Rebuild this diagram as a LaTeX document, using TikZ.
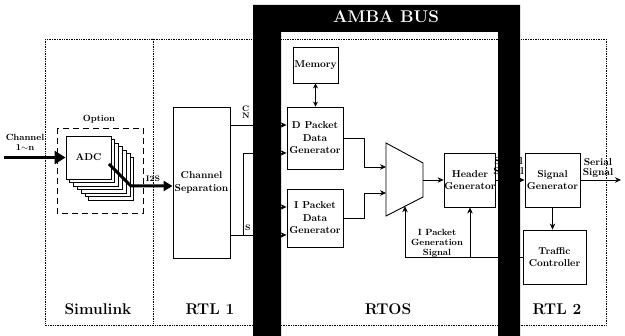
\documentclass[tikz,border=0pt]{standalone}
\usetikzlibrary{arrows.meta}
\begin{document}
\begin{tikzpicture}[x=1pt,y=-1pt,
  blk/.style={draw,line width=0.9pt,fill=white,align=center,inner sep=0.3pt,font=\fontsize{10}{12.5}\selectfont\bfseries},
  arr/.style={-{Stealth[length=6pt,width=5.5pt]},line width=0.8pt},
  con/.style={line width=0.8pt},
  fr/.style={densely dotted,line width=0.7pt},
  big/.style={font=\fontsize{15.5}{18}\selectfont\bfseries},
  sml/.style={font=\fontsize{10}{10}\selectfont\bfseries,align=center,inner sep=0pt},
]
\useasboundingbox (0,0) rectangle (625,336);
\fill[white] (0,0) rectangle (625,336);

% frame
\draw[fr] (45,39) rectangle (606,325);
\draw[fr] (153,39) -- (153,325);

% Simulink part
\draw[dash pattern=on 6pt off 4pt,line width=0.9pt] (57,128) rectangle (143,213);
\node[font=\fontsize{9}{11}\selectfont\bfseries] (opt) at (99,119) {Option};
\foreach \i in {6,5,...,1}
  \draw[line width=0.7pt,fill=white] (66+\i*3.8,136+\i*3.5) rectangle ++(45,43);
\node[blk,minimum width=45pt,minimum height=43pt] (adc) at (88.5,157.5) {ADC};
\node[sml,font=\fontsize{9}{10}\selectfont\bfseries] (chin) at (25,142) {Channel\\1$\sim$n};
\coordinate (chsrc) at (4,157.5);
\draw[line width=3.5pt,-{Triangle[length=11pt,width=13pt]}] (chsrc) -- (adc.west);

% RTL1
\node[blk,minimum width=57pt,minimum height=151pt] (cs) at (201.5,182.5) {Channel\\Separation};
\coordinate (adcout) at (109,164);
\coordinate (i2sy) at (0,186);
\draw[line width=3pt,-{Triangle[length=9pt,width=10pt]}] (adcout) -- (131,186) -- (cs.west |- i2sy);
\node[font=\fontsize{8}{9}\selectfont\bfseries,inner sep=0pt] (i2s) at (153,178.5) {I2S};

% RTOS blocks
\node[blk,minimum width=45pt,minimum height=36pt] (mem) at (315.5,65) {Memory};
\node[blk,minimum width=56pt,minimum height=62pt] (dp) at (315,138) {D Packet\\Data\\Generator};
\node[blk,minimum width=56pt,minimum height=58pt] (ip) at (315,218) {I Packet\\Data\\Generator};
\node[blk,minimum width=50pt,minimum height=54pt] (hg) at (470,180) {Header\\Generator};
\draw[line width=0.9pt,fill=white] (386,143) -- (423,163) -- (423,197) -- (386,216) -- cycle;
\coordinate (mi1) at (386,167);
\coordinate (mi2) at (386,193);
\coordinate (mo) at (423,180);
\coordinate (mb) at (405,206.2);

% RTL2 blocks
\node[blk,minimum width=55pt,minimum height=54pt] (sg) at (552.5,180) {Signal\\Generator};
\node[blk,minimum width=63pt,minimum height=54pt] (tc) at (554.5,257) {Traffic\\Controller};

% connectors RTL1 -> RTOS
\coordinate (ya) at (0,125);
\coordinate (yb) at (0,153);
\coordinate (yc) at (0,207);
\coordinate (yd) at (0,235);
\coordinate (br) at (243,235);
\coordinate (hid) at (266,207);
\draw[arr] (cs.east |- ya) -- (dp.west |- ya);
\draw[arr] (cs.east |- yd) -- (ip.west |- yd);
\draw[arr] (br) -- (br |- yb) -- (dp.west |- yb);
\draw[arr] (hid) -- (ip.west |- yc);
\node[anchor=west,align=left,inner sep=0pt,font=\fontsize{8}{7}\selectfont\bfseries] (chn) at (242,112) {C\\N};
\node[anchor=west,inner sep=0pt,font=\fontsize{8}{7}\selectfont\bfseries] (sl) at (245,228) {S};

% RTOS connectors
\draw[{Stealth[length=5pt,width=5pt]}-{Stealth[length=5pt,width=5pt]},line width=0.9pt] (mem.south) -- (mem.south |- dp.north);
\draw[arr] (dp.east) -- (364,138) -- (364,167) -- (mi1);
\draw[arr] (ip.east) -- (364,218) -- (364,193) -- (mi2);
\draw[arr] (mo) -- (hg.west);
\draw[arr] (hg.east) -- (sg.west);
\coordinate (sout) at (621,180);
\draw[arr] (sg.east) -- (sout);
\draw[arr] (sg.south) -- (sg.south |- tc.north);
\draw[arr] (tc.west) -- (tc.west -| mb) -- (mb);
\draw[arr] (tc.west -| hg.south) -- (hg.south);
\node[align=center,inner sep=0pt,font=\fontsize{9}{10}\selectfont\bfseries] (ipg) at (437,243) {I Packet\\Generation\\Signal};
\node[sml] (ser) at (598,168) {Serial\\Signal};
\node[sml,anchor=east] (ser2) at (524,167) {Serial\\Signal};

% AMBA bus
\fill[black] (253,5) -- (520,5) -- (520,336) -- (498,336) -- (498,32) -- (281,32) -- (281,336) -- (253,336) -- cycle;
\node[white,font=\fontsize{17}{20}\selectfont\bfseries] (amba) at (386,17) {AMBA BUS};

% bottom labels
\node[big] (l1) at (98,309) {Simulink};
\node[big] (l2) at (210,309) {RTL 1};
\node[big] (l3) at (388,309) {RTOS};
\node[big] (l4) at (557,309) {RTL 2};
\end{tikzpicture}
\end{document}
